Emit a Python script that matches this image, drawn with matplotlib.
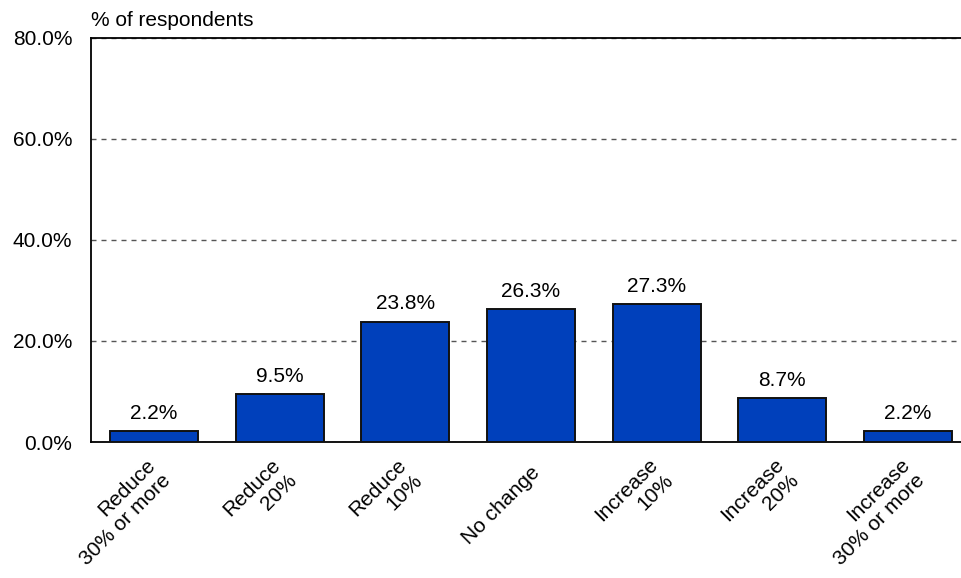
import matplotlib
matplotlib.use("Agg")
import matplotlib.pyplot as plt
import matplotlib.transforms as mtransforms
from matplotlib.ticker import FuncFormatter

categories = ["Reduce\n30% or more", "Reduce\n20%", "Reduce\n10%", "No change",
              "Increase\n10%", "Increase\n20%", "Increase\n30% or more"]
values = [2.2, 9.5, 23.8, 26.3, 27.3, 8.7, 2.2]
y_ticks = [0, 20, 40, 60, 80]

plt.rcParams["font.family"] = ["Liberation Sans", "DejaVu Sans"]
FS = 15

fig = plt.figure(figsize=(9.61, 5.78), dpi=100)
# axes run past the right edge of the canvas
ax = fig.add_axes([91 / 961, (578 - 442) / 578, 880 / 961, 404 / 578])

x = list(range(len(categories)))
ax.bar(x, values, width=0.7, color="#0040BB", edgecolor="#111111", linewidth=1.4, zorder=3)
for xi, v in zip(x, values):
    ax.annotate(f"{v:.1f}%", (xi, v), xytext=(0, 6), textcoords="offset points",
                ha="center", va="bottom", fontsize=FS)

ax.set_xlim(-0.5, len(categories) - 0.5)
ax.set_ylim(0, 80)
ax.set_yticks(y_ticks)
ax.yaxis.set_major_formatter(FuncFormatter(lambda v, p: f"{v:.1f}%"))
ax.yaxis.grid(True, linestyle=(0, (3.6, 3.6)), color="#555555", linewidth=1.0, zorder=0)
ax.set_axisbelow(True)
ax.tick_params(axis="y", length=0, labelsize=FS, pad=13.5)
ax.tick_params(axis="x", length=0, labelsize=FS, pad=20)

ax.set_xticks(x)
ax.set_xticklabels(categories, rotation=45, ha="right", va="center",
                   rotation_mode="anchor", multialignment="right")
shift = mtransforms.ScaledTranslation(6 / 100, 0, fig.dpi_scale_trans)
for lbl in ax.get_xticklabels():
    lbl.set_transform(lbl.get_transform() + shift)

for side in ["left", "top", "bottom"]:
    ax.spines[side].set_color("black")
    ax.spines[side].set_linewidth(1.3)
ax.spines["right"].set_visible(False)

fig.text(91 / 961, 1 - 20 / 578, "% of respondents", ha="left", va="center", fontsize=FS)

fig.savefig("out.png", dpi=100)
